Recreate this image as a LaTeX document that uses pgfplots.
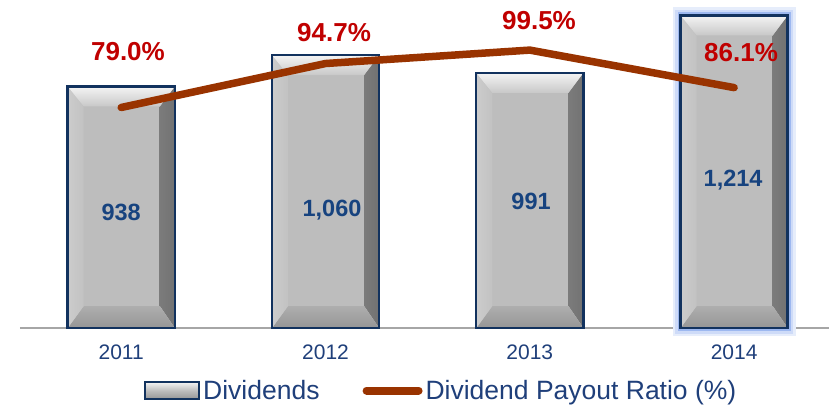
\documentclass[border=0pt]{standalone}
\usepackage{fontspec}
\setmainfont{Liberation Sans}
\usepackage{pgfplots}
\pgfplotsset{compat=1.18}
\definecolor{barmid}{HTML}{BDBDBD}
\definecolor{barborder}{HTML}{12325E}
\definecolor{linecol}{HTML}{993300}
\definecolor{pctred}{HTML}{C00000}
\definecolor{valblue}{HTML}{17437F}
\definecolor{txtblue}{HTML}{1F3F7A}
\definecolor{glow}{HTML}{9DB8F0}
\definecolor{axisgray}{HTML}{A6A6A6}
\definecolor{bevT1}{HTML}{F4F4F4}
\definecolor{bevT2}{HTML}{C8C8C8}
\definecolor{bevL1}{HTML}{CCCCCC}
\definecolor{bevL2}{HTML}{C2C2C2}
\definecolor{bevR1}{HTML}{B4B4B4}
\definecolor{bevR2}{HTML}{727272}
\definecolor{bevB1}{HTML}{AEAEAE}
\definecolor{bevB2}{HTML}{969696}
\tikzset{bev/.style={path picture={}, draw=none}}
\pgfplotsset{
  bevelbar/.style={ybar, bar width=0.524, bar shift=0pt, fill=barmid, draw=barborder, line width=2.4bp,
    path picture={
      \shade[bev, left color=bevR1, right color=bevR2] (path picture bounding box.north east) -- (path picture bounding box.south east) -- ([shift={(-15bp,22bp)}]path picture bounding box.south east) -- ([shift={(-15bp,-20bp)}]path picture bounding box.north east) -- cycle;
      \shade[bev, top color=bevB1, bottom color=bevB2] (path picture bounding box.south west) -- (path picture bounding box.south east) -- ([shift={(-15bp,22bp)}]path picture bounding box.south east) -- ([shift={(16bp,22bp)}]path picture bounding box.south west) -- cycle;
      \shade[bev, left color=bevL1, right color=bevL2] (path picture bounding box.north west) -- (path picture bounding box.south west) -- ([shift={(16bp,22bp)}]path picture bounding box.south west) -- ([shift={(16bp,-20bp)}]path picture bounding box.north west) -- cycle;
      \shade[bev, top color=bevT1, bottom color=bevT2] (path picture bounding box.north west) -- (path picture bounding box.north east) -- ([shift={(-15bp,-20bp)}]path picture bounding box.north east) -- ([shift={(16bp,-20bp)}]path picture bounding box.north west) -- cycle;
    }},
  glowbar/.style={ybar, bar width=0.524, bar shift=0pt, fill=none, forget plot},
}
\begin{document}
\begin{tikzpicture}
\begin{axis}[
  width=809bp, height=318bp, scale only axis,
  xmin=-0.4954, xmax=3.4645, ymin=0, ymax=1235,
  axis x line*=bottom, axis y line=none,
  axis line style={axisgray, line width=1.8bp, -},
  xtick={0,1,2,3}, xticklabels={2011,2012,2013,2014},
  major tick length=0pt,
  xticklabel style={font=\fontsize{21bp}{24bp}\selectfont, text=txtblue, anchor=center, inner sep=0pt, yshift=-24.5bp},
  clip=false,
  legend columns=2,
  legend style={at={(0.1533,-0.1635)}, anchor=north west, draw=none, fill=none, inner sep=0pt,
    font=\fontsize{26.5bp}{30bp}\selectfont, text=txtblue,
    nodes={inner sep=0pt},
    /tikz/every odd column/.append style={column sep=3bp},
    /tikz/every even column/.append style={column sep=43bp}},
]
\addplot[glowbar, draw=glow!25, line width=16bp] coordinates {(3,1214)};
\addplot[glowbar, draw=glow!50, line width=11bp] coordinates {(3,1214)};
\addplot[glowbar, draw=glow, line width=6bp] coordinates {(3,1214)};
\addplot[bevelbar, forget plot] coordinates {(0,938)};
\addplot[bevelbar, forget plot] coordinates {(1,1060)};
\addplot[bevelbar, forget plot] coordinates {(2,991)};
\addplot[bevelbar, forget plot] coordinates {(3,1214)};
\addlegendimage{legend image code/.code={
  \shade[top color=bevT1, bottom color=bevB2, middle color=barmid] (0bp,-8.5bp) rectangle (54bp,8.5bp);
  \draw[barborder, line width=2bp] (0bp,-8.5bp) rectangle (54bp,8.5bp);}}
\addlegendentry{Dividends}
\addlegendimage{legend image code/.code={
  \draw[linecol, line width=8bp, line cap=round] (4bp,0bp) -- (56bp,0bp);}}
\addlegendentry{Dividend Payout Ratio (\%)}
\node[font=\fontsize{23.5bp}{28bp}\selectfont\bfseries, text=valblue, inner sep=0pt] at (axis cs:0,450) {938};
\node[font=\fontsize{23.5bp}{28bp}\selectfont\bfseries, text=valblue, inner sep=0pt] at (axis cs:1.032,458) {1,060};
\node[font=\fontsize{23.5bp}{28bp}\selectfont\bfseries, text=valblue, inner sep=0pt] at (axis cs:2.006,493) {991};
\node[font=\fontsize{23.5bp}{28bp}\selectfont\bfseries, text=valblue, inner sep=0pt] at (axis cs:2.995,575) {1,214};
\end{axis}
\begin{axis}[
  width=809bp, height=318bp, scale only axis,
  xmin=-0.4954, xmax=3.4645, ymin=0.25, ymax=113.82,
  axis lines=none, clip=false,
]
\addplot[linecol, line width=7.5bp, line cap=round, line join=round, mark=none] coordinates {(0,79.0) (1,94.7) (2,99.5) (3,86.1)};
\node[font=\fontsize{26bp}{30bp}\selectfont\bfseries, text=pctred, inner sep=0pt] at (axis cs:0.033,98.82) {79.0\%};
\node[font=\fontsize{26bp}{30bp}\selectfont\bfseries, text=pctred, inner sep=0pt] at (axis cs:1.042,105.79) {94.7\%};
\node[font=\fontsize{26bp}{30bp}\selectfont\bfseries, text=pctred, inner sep=0pt] at (axis cs:2.045,109.89) {99.5\%};
\node[font=\fontsize{26bp}{30bp}\selectfont\bfseries, text=pctred, inner sep=0pt] at (axis cs:3.034,98.46) {86.1\%};
\end{axis}
\pgfresetboundingbox
\path[use as bounding box] (-20bp,-77bp) rectangle (809bp,328bp);
\end{tikzpicture}
\end{document}
